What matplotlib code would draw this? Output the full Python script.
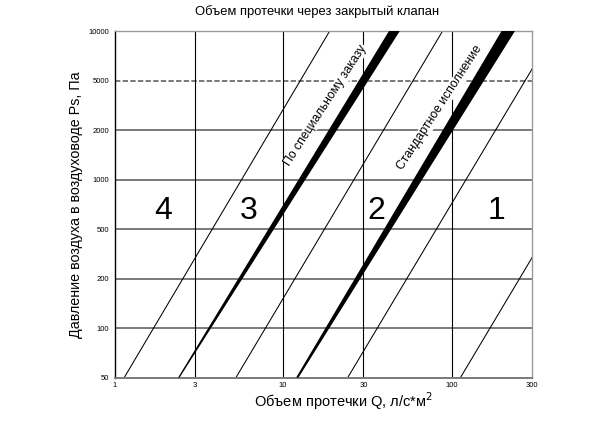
import numpy as np
import matplotlib.pyplot as plt

plt.rcParams['font.family'] = ['Liberation Sans', 'DejaVu Sans']

# ------------------------------------------------------------
# Data
# ------------------------------------------------------------
p_ticks = [50, 100, 200, 500, 1000, 2000, 5000, 10000]
q_ticks = [1, 3, 10, 30, 100, 300]
q_grid = [3, 10, 30, 100]
p_dashed = 5000

# thin class boundary lines: Q at P=50 and Q at P=10000
thin_q_bottom = [1.14, 5.25, 24.2, 113.0]
thin_q_top = [18.9, 88.5, 410.0, 1910.0]

# thick wedges: (left, right) Q at P=50 and at P=10000
wedge_q_bottom = [(2.38, 2.43), (11.95, 12.35)]
wedge_q_top = [(42.5, 49.3), (198.0, 238.0)]
wedge_labels = ["По специальному заказу", "Стандартное исполнение"]
wedge_label_pos = [(17.9, 3180), (85.2, 3010)]

class_labels = ["4", "3", "2", "1"]
class_label_q = [1.94, 6.21, 35.9, 185.0]
class_label_p = 644

log_p = np.log10(p_ticks)
idx = np.arange(len(p_ticks))


def p_forward(p):
    p = np.clip(np.asarray(p, dtype=float), 1e-3, None)
    lp = np.log10(p)
    # linear extrapolation on the first/last segments
    out = np.interp(lp, log_p, idx)
    out = np.where(lp < log_p[0], (lp - log_p[0]) / (log_p[1] - log_p[0]), out)
    out = np.where(lp > log_p[-1], idx[-1] + (lp - log_p[-1]) / (log_p[-1] - log_p[-2]), out)
    return out


def p_inverse(i):
    i = np.asarray(i, dtype=float)
    out = np.interp(i, idx, log_p)
    out = np.where(i < 0, log_p[0] + i * (log_p[1] - log_p[0]), out)
    out = np.where(i > idx[-1], log_p[-1] + (i - idx[-1]) * (log_p[-1] - log_p[-2]), out)
    return 10 ** out


fig = plt.figure(figsize=(6.1, 4.26), dpi=100)
ax = fig.add_axes([0.188, 0.1138, 0.684, 0.8134])
ax.set_xscale('log')
ax.set_yscale('function', functions=(p_forward, p_inverse))
ax.set_xlim(q_ticks[0], q_ticks[-1])
ax.set_ylim(p_ticks[0], p_ticks[-1])

# grid
for p in p_ticks[1:-1]:
    if p == p_dashed:
        ax.axhline(p, color='#555555', lw=1.1, ls=(0, (3.5, 1.5)), zorder=1)
    else:
        ax.axhline(p, color='#7a7a7a', lw=1.4, zorder=1)
for q in q_grid:
    ax.axvline(q, color='black', lw=0.8, zorder=1)

# thin lines
for qb, qt in zip(thin_q_bottom, thin_q_top):
    ax.plot([qb, qt], [p_ticks[0], p_ticks[-1]], color='black', lw=0.75, zorder=2)

# thick wedges
for (bl, br), (tl, tr) in zip(wedge_q_bottom, wedge_q_top):
    ax.fill([bl, br, tr, tl], [p_ticks[0], p_ticks[0], p_ticks[-1], p_ticks[-1]],
            color='black', lw=0, zorder=3)

# labels along the wedges
for txt, (q, p) in zip(wedge_labels, wedge_label_pos):
    ax.text(q, p, txt, rotation=57, rotation_mode='anchor', ha='center', va='center',
            fontsize=8.8, zorder=4,
            bbox=dict(facecolor='white', edgecolor='none', pad=0.2))

# class numbers
for txt, q in zip(class_labels, class_label_q):
    ax.text(q, class_label_p, txt, ha='center', va='center', fontsize=23, zorder=4)

ax.set_xticks(q_ticks)
ax.set_xticklabels([str(q) for q in q_ticks])
ax.set_xticks([], minor=True)
ax.set_yticks(p_ticks)
ax.set_yticklabels([str(p) for p in p_ticks])
ax.set_yticks([], minor=True)
ax.tick_params(axis='both', length=0, labelsize=5.5)
ax.tick_params(axis='x', pad=3)
ax.tick_params(axis='y', pad=4)

ax.spines['left'].set_color('black')
ax.spines['left'].set_linewidth(1.0)
ax.spines['bottom'].set_color('#7a7a7a')
ax.spines['bottom'].set_linewidth(1.4)
ax.spines['top'].set_color('#9a9a9a')
ax.spines['top'].set_linewidth(1.0)
ax.spines['right'].set_color('#9a9a9a')
ax.spines['right'].set_linewidth(1.0)

ax.set_xlabel('Объем протечки Q, л/с*м$^2$', fontsize=10.5, labelpad=1, x=0.548)
ax.set_ylabel('Давление воздуха в воздуховоде Ps, Па', fontsize=10.3, labelpad=4)
fig.text(0.5205, 0.972, 'Объем протечки через закрытый клапан', ha='center', va='center',
         fontsize=9.4)

fig.savefig('out.png', dpi=100)
